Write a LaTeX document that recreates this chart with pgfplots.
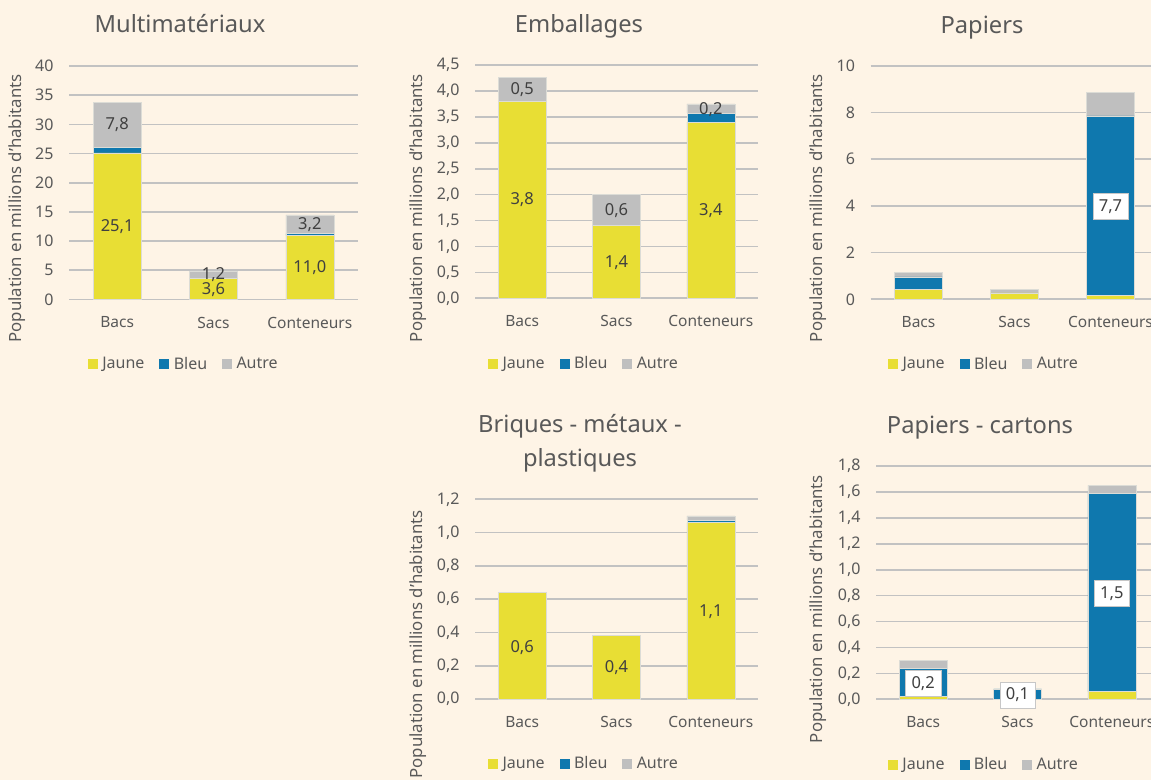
\documentclass[border=0pt]{standalone}
\usepackage{pgfplots}
\pgfplotsset{compat=1.18}
\usepackage{fontspec}
\setmainfont{Noto Sans}
\definecolor{bg}{RGB}{254,244,230}
\definecolor{jaune}{RGB}{232,222,52}
\definecolor{bleu}{RGB}{15,120,174}
\definecolor{autre}{RGB}{191,191,191}
\definecolor{gridc}{RGB}{194,194,194}
\definecolor{txt}{RGB}{89,89,89}
\definecolor{lbl}{RGB}{64,64,64}
\definecolor{edge}{RGB}{220,220,214}

\pgfplotsset{
  panel/.style={
    scale only axis,
    anchor=south west,
    ybar stacked,
    bar width=48pt,
    xmin=-0.5, xmax=2.5,
    ymin=0,
    xtick={0,1,2},
    xticklabels={Bacs,Sacs,Conteneurs},
    axis line style={draw=none},
    tick style={draw=none},
    major tick length=0pt,
    ymajorgrids,
    grid style={gridc, line width=1.7pt},
    xticklabel style={font=\fontsize{15.5}{18}\selectfont, text=txt, anchor=center, yshift=-23pt},
    yticklabel style={font=\fontsize{16}{18}\selectfont, text=txt, anchor=east, xshift=-12pt},
    /pgf/number format/assume math mode=true,
    legend columns=3,
    legend cell align=left,
    legend style={draw=none, fill=none, anchor=center,
      font=\fontsize{16}{18}\selectfont, text=txt,
      nodes={inner sep=0pt},
      /tikz/every even column/.append style={column sep=15pt}},
  },
  dec/.style={/pgf/number format/.cd, use comma, fixed, fixed zerofill, precision=1},
  sJ/.style={fill=jaune, draw=edge, line width=0.6pt,
    legend image code/.code={\fill[##1,draw=none] (0pt,-5pt) rectangle (10pt,5pt); \path (14pt,0pt);}},
  sB/.style={fill=bleu, draw=edge, line width=0.6pt,
    legend image code/.code={\fill[##1,draw=none] (0pt,-5pt) rectangle (10pt,5pt); \path (14pt,0pt);}},
  sA/.style={fill=autre, draw=edge, line width=0.6pt,
    legend image code/.code={\fill[##1,draw=none] (0pt,-5pt) rectangle (10pt,5pt); \path (14pt,0pt);}},
}
\tikzset{
  dl/.style={font=\fontsize{16.5}{19}\selectfont, text=lbl, inner sep=1pt},
  bl/.style={font=\fontsize{16.5}{19}\selectfont, text=lbl, fill=white, draw=black!22,
    line width=0.5pt, inner xsep=6pt, inner ysep=6pt},
  ttl/.style={font=\fontsize{23.7}{27}\selectfont, text=txt, anchor=base, inner sep=0pt},
  yl/.style={font=\fontsize{16.8}{19}\selectfont, text=txt, rotate=90, anchor=center, inner sep=0pt},
}
\newcommand{\ylab}{Population en millions d\char39habitants}

\begin{document}
\begin{tikzpicture}
\useasboundingbox (0,0) rectangle (1151pt,780pt);
\fill[bg] (0,0) rectangle (1151pt,780pt);
\clip (0,0) rectangle (1151pt,780pt);

% Titles
\node[ttl] at (180pt,747pt) {Multimatériaux};
\node[ttl] at (579pt,747.5pt) {Emballages};
\node[ttl] at (982pt,746.7pt) {Papiers};
\node[ttl] at (580pt,347.7pt) {Briques - métaux -};
\node[ttl] at (580pt,313.3pt) {plastiques};
\node[ttl] at (980pt,346.7pt) {Papiers - cartons};

% Y labels
\node[yl] at (17.5pt,571.5pt) {\ylab};
\node[yl] at (418pt,572pt) {\ylab};
\node[yl] at (818pt,572pt) {\ylab};
\node[yl] at (418pt,135.5pt) {\ylab};
\node[yl] at (818pt,171pt) {\ylab};

% Panel 1: Multimateriaux
\begin{axis}[panel, at={(69pt,480.5pt)}, width=289pt, height=233.5pt,
  ymax=40, ytick={0,5,...,40},
  legend style={at={(0.394,-0.275)}},
  after end axis/.code={
    \node[dl] at (axis cs:0,12.55) {25,1};
    \node[dl] at (axis cs:0,29.9) {7,8};
    \node[dl] at (axis cs:1,1.7) {3,6};
    \node[dl] at (axis cs:1,4.25) {1,2};
    \node[dl] at (axis cs:2,5.5) {11,0};
    \node[dl] at (axis cs:2,12.8) {3,2};
  }]
\addplot+[sJ] coordinates {(0,25.1) (1,3.6) (2,11.0)};
\addplot+[sB] coordinates {(0,0.9) (1,0.0) (2,0.3)};
\addplot+[sA] coordinates {(0,7.8) (1,1.2) (2,3.2)};
\legend{Jaune,Bleu,Autre}
\end{axis}

% Panel 2: Emballages
\begin{axis}[panel, dec, at={(475pt,481.7pt)}, width=283pt, height=233.3pt,
  ymax=4.5, ytick={0,0.5,...,4.5},
  legend style={at={(0.382,-0.28)}},
  after end axis/.code={
    \node[dl] at (axis cs:0,1.9) {3,8};
    \node[dl] at (axis cs:0,4.03) {0,5};
    \node[dl] at (axis cs:1,0.68) {1,4};
    \node[dl] at (axis cs:1,1.7) {0,6};
    \node[dl] at (axis cs:2,1.69) {3,4};
    \node[dl] at (axis cs:2,3.64) {0,2};
  }]
\addplot+[sJ] coordinates {(0,3.8) (1,1.4) (2,3.4)};
\addplot+[sB] coordinates {(0,0.0) (1,0.0) (2,0.17)};
\addplot+[sA] coordinates {(0,0.46) (1,0.6) (2,0.18)};
\legend{Jaune,Bleu,Autre}
\end{axis}

% Panel 3: Papiers
\begin{axis}[panel, at={(870.5pt,480.7pt)}, width=288pt, height=233.6pt,
  ymax=10, ytick={0,2,...,10},
  legend style={at={(0.391,-0.276)}},
  after end axis/.code={
    \node[bl] at (axis cs:2,3.97) {7,7};
  }]
\addplot+[sJ] coordinates {(0,0.44) (1,0.27) (2,0.15)};
\addplot+[sB] coordinates {(0,0.52) (1,0.0) (2,7.7)};
\addplot+[sA] coordinates {(0,0.2) (1,0.17) (2,1.0)};
\legend{Jaune,Bleu,Autre}
\end{axis}

% Panel 4: Briques - metaux - plastiques
\begin{axis}[panel, dec, at={(475pt,81pt)}, width=283pt, height=199.7pt,
  ymax=1.2, ytick={0,0.2,...,1.2},
  legend style={at={(0.382,-0.323)}},
  after end axis/.code={
    \node[dl] at (axis cs:0,0.31) {0,6};
    \node[dl] at (axis cs:1,0.186) {0,4};
    \node[dl] at (axis cs:2,0.523) {1,1};
  }]
\addplot+[sJ] coordinates {(0,0.64) (1,0.38) (2,1.06)};
\addplot+[sB] coordinates {(0,0.0) (1,0.0) (2,0.015)};
\addplot+[sA] coordinates {(0,0.0) (1,0.004) (2,0.025)};
\legend{Jaune,Bleu,Autre}
\end{axis}

% Panel 5: Papiers - cartons
\begin{axis}[panel, dec, at={(876pt,80.7pt)}, width=283pt, height=233.3pt,
  ymax=1.8, ytick={0,0.2,...,1.8},
  legend style={at={(0.378,-0.28)}},
  after end axis/.code={
    \node[bl] at (axis cs:0,0.123) {0,2};
    \node[bl] at (axis cs:1,0.033) {0,1};
    \node[bl] at (axis cs:2,0.818) {1,5};
  }]
\addplot+[sJ] coordinates {(0,0.02) (1,0.0) (2,0.06)};
\addplot+[sB] coordinates {(0,0.22) (1,0.08) (2,1.53)};
\addplot+[sA] coordinates {(0,0.06) (1,0.0) (2,0.06)};
\legend{Jaune,Bleu,Autre}
\end{axis}
\end{tikzpicture}
\end{document}
